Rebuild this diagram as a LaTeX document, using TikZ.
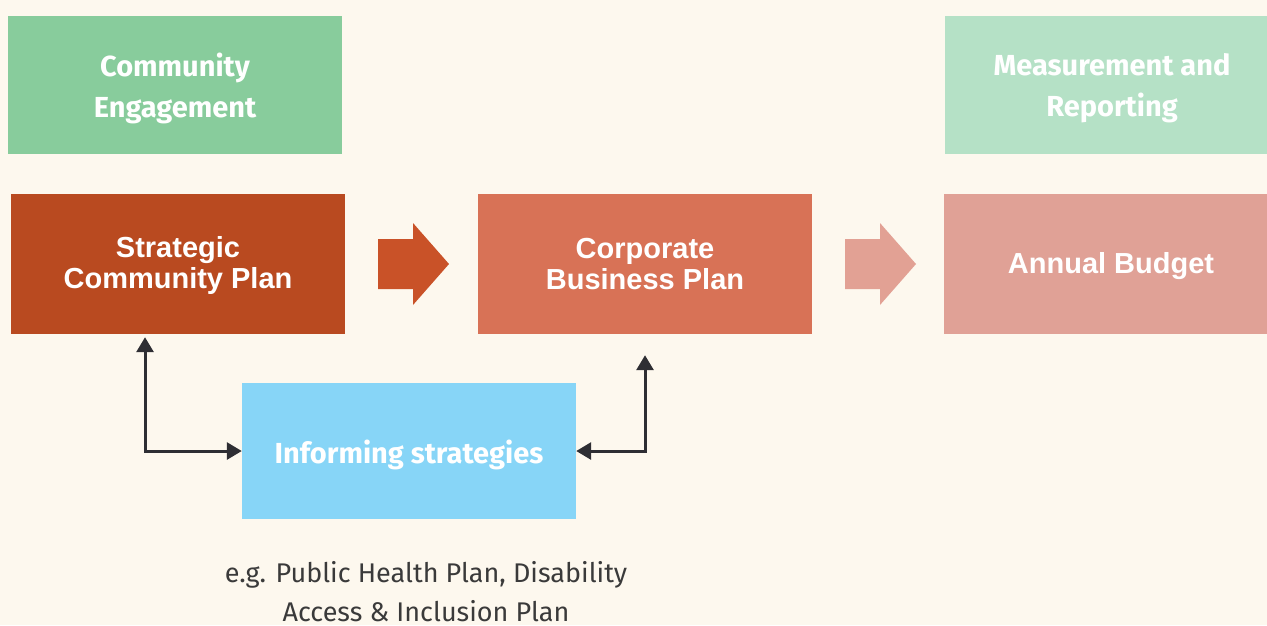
\documentclass[tikz,border=0pt]{standalone}
\usepackage{fontspec}
\setmainfont{Liberation Sans}
\newfontfamily\labelfont{Fira Sans}
\usetikzlibrary{arrows.meta}
\definecolor{paper}{HTML}{FDF8EE}
\definecolor{engage}{HTML}{88CC9C}
\definecolor{measure}{HTML}{B5E1C6}
\definecolor{scpcol}{HTML}{B94A20}
\definecolor{cbpcol}{HTML}{D87256}
\definecolor{budget}{HTML}{E0A196}
\definecolor{inform}{HTML}{87D5F7}
\definecolor{flowA}{HTML}{C95228}
\definecolor{flowB}{HTML}{E2A194}
\definecolor{ink}{HTML}{2E2E33}
\definecolor{note}{HTML}{3A3A3A}
\begin{document}
\begin{tikzpicture}[x=1pt,y=-1pt,
  box/.style={inner sep=0pt, minimum width=334pt, minimum height=138pt},
  plantext/.style={text=white, align=center, inner sep=0pt, font=\fontsize{29}{31}\selectfont\bfseries},
  tagtext/.style={text=white, align=center, inner sep=0pt, font=\labelfont\fontsize{29}{41}\selectfont\bfseries},
  conn/.style={draw=ink, line width=3pt, {Triangle[length=15pt,width=17pt]}-{Triangle[length=15pt,width=17pt]}},
]
\fill[paper] (0,0) rectangle (1267,625);
\useasboundingbox (0,0) rectangle (1267,625);

% top row: engagement and measurement
\node[box, fill=engage] (ce) at (175,84.5) {};
\node[tagtext] (cet) at ([yshift=-4pt]ce.center) {Community\\Engagement};
\node[box, fill=measure] (mr) at (1112,84.5) {};
\node[tagtext] (mrt) at ([yshift=-4pt]mr.center) {Measurement and\\Reporting};

% middle row: plans and budget
\node[box, fill=scpcol, minimum height=140pt] (scp) at (178,264) {};
\node[plantext] (scpt) at ([yshift=-1.5pt]scp.center) {Strategic\\Community Plan};
\node[box, fill=cbpcol, minimum height=140pt] (cbp) at (645,264) {};
\node[plantext] (cbpt) at (cbp.center) {Corporate\\Business Plan};
\node[box, fill=budget, minimum height=140pt] (ab) at (1111,264) {};
\node[plantext] (abt) at ([yshift=-2pt]ab.center) {Annual Budget};

% informing strategies and its examples
\node[box, fill=inform, minimum height=136pt] (inf) at (409,451) {};
\node[tagtext] (inft) at ([yshift=-4pt]inf.center) {Informing strategies};
\node[font=\labelfont\fontsize{27}{39}\selectfont, text=note, align=center] (eg) at (426,592)
  {e.g. Public Health Plan, Disability\\Access \& Inclusion Plan};

% block arrows between the plans
\fill[flowA] (378,239) -- (413,239) -- (413,223) -- (449,264) -- (413,305) -- (413,289) -- (378,289) -- cycle;
\fill[flowB] (845,239) -- (880,239) -- (880,223) -- (916,264) -- (880,305) -- (880,289) -- (845,289) -- cycle;

% feedback connectors
\draw[conn, shorten <=3pt] ([xshift=-33pt]scp.south) |- (inf.west);
\draw[conn, shorten >=21pt] (inf.east) -| (cbp.south);
\end{tikzpicture}
\end{document}
